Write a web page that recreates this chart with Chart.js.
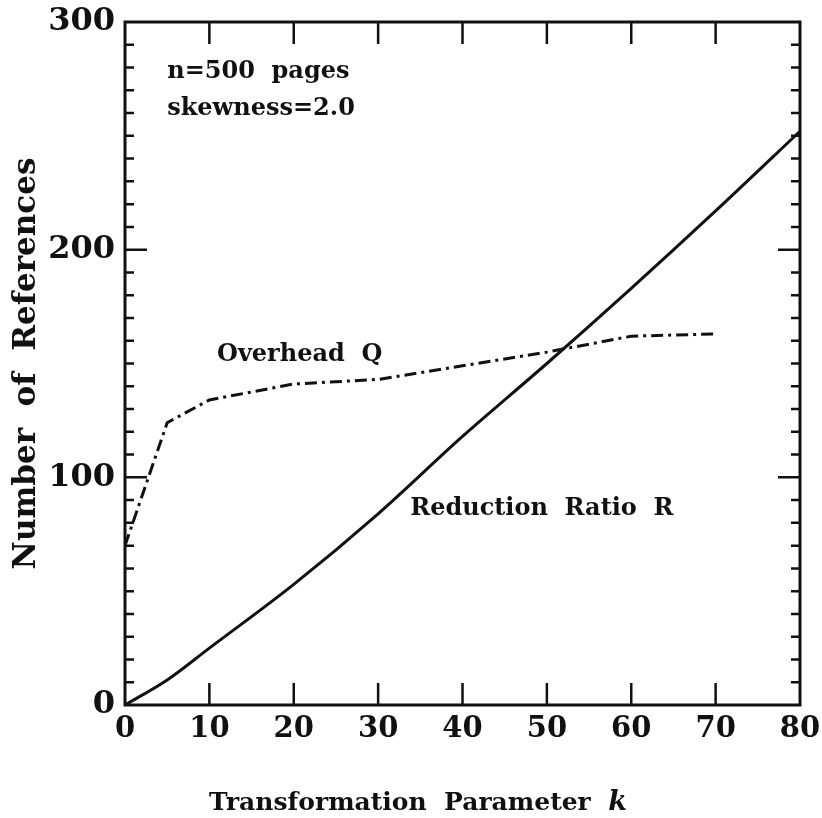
<!DOCTYPE html>
<html lang="en">
<head>
  <meta charset="UTF-8">
  <title>Number of References vs Transformation Parameter k</title>
  <script src="https://cdn.jsdelivr.net/npm/chart.js"></script>
  <style>
    html, body {
      margin: 0;
      padding: 0;
      background: #fff;
    }
    #wrap {
      width: 822px;
      height: 818px;
    }
  </style>
</head>
<body>

<div id="wrap"><canvas id="refChart" width="822" height="818"></canvas></div>

<script>
  // values
  const kValues = [0, 5, 10, 20, 30, 40, 50, 60, 70, 80];
  const reductionR = [0, 11, 25, 53, 84, 118, 150, 183, 217, 252];

  const kOverhead = [0, 5, 10, 20, 30, 40, 50, 60, 70];
  const overheadQ = [70, 124, 134, 141, 143, 149, 155, 162, 163];

  const xTickLabels = ["0", "10", "20", "30", "40", "50", "60", "70", "80"];
  const yTickLabels = ["0", "100", "200", "300"];

  const TEXT_FONT = "'DejaVu Serif', serif";
  const INK = "#111";

  function toPoints(xs, ys) {
    return xs.map(function (x, i) { return { x: x, y: ys[i] }; });
  }

  // frame, inward ticks on all four sides, in-plot labels and the x title
  const framePlugin = {
    id: "frame",
    afterDraw: function (chart) {
      const ctx = chart.ctx;
      const a = chart.chartArea;
      const xs = chart.scales.x;
      const ys = chart.scales.y;
      ctx.save();
      ctx.strokeStyle = INK;
      ctx.lineWidth = 3;
      ctx.strokeRect(a.left, a.top, a.right - a.left, a.bottom - a.top);

      ctx.lineWidth = 2.5;
      ctx.beginPath();
      for (let k = 10; k < 80; k += 10) {
        const px = xs.getPixelForValue(k);
        ctx.moveTo(px, a.bottom);
        ctx.lineTo(px, a.bottom - 22);
        ctx.moveTo(px, a.top);
        ctx.lineTo(px, a.top + 22);
      }
      for (let v = 10; v < 300; v += 10) {
        const py = ys.getPixelForValue(v);
        const len = (v % 100 === 0) ? 22 : 9;
        ctx.moveTo(a.left, py);
        ctx.lineTo(a.left + len, py);
        ctx.moveTo(a.right, py);
        ctx.lineTo(a.right - len, py);
      }
      ctx.stroke();

      // labels inside the plot, placed in data units
      ctx.fillStyle = INK;
      ctx.textBaseline = "middle";
      ctx.textAlign = "left";
      ctx.font = "bold 24px " + TEXT_FONT;
      ctx.fillText("n=500  pages", xs.getPixelForValue(5), ys.getPixelForValue(278));
      ctx.fillText("skewness=2.0", xs.getPixelForValue(5), ys.getPixelForValue(262));
      ctx.fillText("Overhead  Q", xs.getPixelForValue(10.9), ys.getPixelForValue(154));
      ctx.fillText("Reduction  Ratio  R", xs.getPixelForValue(33.8), ys.getPixelForValue(86));

      // x axis title with an italic k
      const main = "Transformation  Parameter  ";
      ctx.font = "bold 25px " + TEXT_FONT;
      const w1 = ctx.measureText(main).width;
      ctx.font = "italic bold 27px " + TEXT_FONT;
      const w2 = ctx.measureText("k").width;
      const startX = 418 - (w1 + w2) / 2;
      ctx.textBaseline = "alphabetic";
      ctx.font = "bold 25px " + TEXT_FONT;
      ctx.fillText(main, startX, 810);
      ctx.font = "italic bold 27px " + TEXT_FONT;
      ctx.fillText("k", startX + w1, 810);
      ctx.restore();
    }
  };

  const ctx = document.getElementById("refChart").getContext("2d");
  const chart = new Chart(ctx, {
    type: "line",
    data: {
      datasets: [
        {
          label: "Reduction Ratio R",
          data: toPoints(kValues, reductionR),
          borderColor: INK,
          borderWidth: 3,
          pointRadius: 0,
          tension: 0,
          cubicInterpolationMode: "monotone",
          fill: false
        },
        {
          label: "Overhead Q",
          data: toPoints(kOverhead, overheadQ),
          borderColor: INK,
          borderWidth: 3,
          borderDash: [12, 5, 3, 5],
          pointRadius: 0,
          tension: 0,
          fill: false
        }
      ]
    },
    options: {
      responsive: false,
      animation: false,
      events: [],
      layout: {
        padding: { left: 0, right: 22, top: 22, bottom: 0 }
      },
      plugins: {
        legend: { display: false },
        tooltip: { enabled: false }
      },
      scales: {
        x: {
          type: "linear",
          min: 0,
          max: 80,
          border: { display: false },
          grid: { display: false, drawTicks: false },
          ticks: {
            stepSize: 10,
            autoSkip: false,
            maxRotation: 0,
            padding: 7,
            color: INK,
            font: { family: TEXT_FONT, size: 29, weight: "bold" },
            callback: function (value) {
              const s = String(value);
              return xTickLabels.indexOf(s) >= 0 ? s : "";
            }
          },
          afterFit: function (scale) {
            scale.height = 113;
            // the "80" label may overhang into the right margin
            scale.paddingLeft = 0;
            scale.paddingRight = 0;
          }
        },
        y: {
          type: "linear",
          min: 0,
          max: 300,
          border: { display: false },
          grid: { display: false, drawTicks: false },
          ticks: {
            stepSize: 10,
            autoSkip: false,
            padding: 10,
            color: INK,
            font: { family: TEXT_FONT, size: 32, weight: "bold", lineHeight: 0.7 },
            callback: function (value) {
              const s = String(value);
              return yTickLabels.indexOf(s) >= 0 ? s : "";
            }
          },
          title: {
            display: true,
            text: "Number  of  References",
            color: INK,
            padding: { top: 8, bottom: 0 },
            font: { family: TEXT_FONT, size: 31, weight: "bold" }
          },
          afterFit: function (scale) { scale.width = 125; }
        }
      }
    },
    plugins: [framePlugin]
  });
</script>

</body>
</html>
